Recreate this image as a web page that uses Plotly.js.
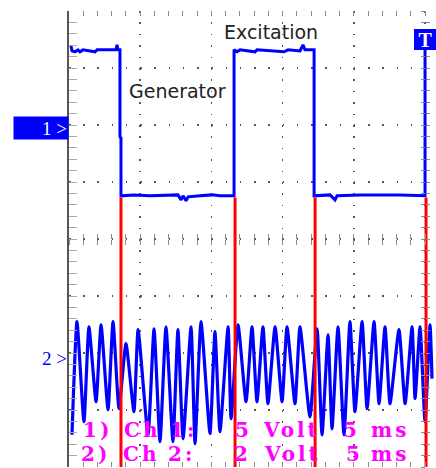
<!DOCTYPE html>
<html>
<head>
<meta charset="utf-8">
<script src="https://cdn.plot.ly/plotly-3.0.1.min.js"></script>
<style>html,body{margin:0;padding:0;background:#fff;}#chart{width:436px;height:468px;}</style>
</head>
<body>
<div id="chart"></div>
<script>
// ---- data (time in ms, values in volts) ----
const ch1Time = [0.14,0.21,0.42,0.63,0.77,0.98,1.83,1.97,3.30,3.37,3.44,3.58,3.58,3.65,3.65,4.56,5.69,7.65,7.87,8.01,8.22,8.36,9.20,10.04,10.60,11.59,11.59,11.80,12.01,13.06,13.20,15.10,15.38,16.22,16.43,16.57,17.21,17.21,18.33,18.68,18.82,20.44,23.24,24.93,25.00,25.00];
const ch1Volt = [7.19,6.75,6.67,6.84,6.67,6.84,6.67,6.84,6.84,7.28,6.84,6.84,-0.79,-0.88,-5.96,-5.88,-5.96,-5.88,-6.32,-5.96,-6.40,-6.05,-5.96,-5.88,-5.96,-5.96,6.84,6.67,6.84,6.67,6.84,6.67,6.84,6.75,7.28,6.84,6.84,-5.96,-5.88,-6.32,-5.96,-5.88,-5.88,-5.96,-5.96,7.40];

const ch2Time = [0.21,0.56,1.05,1.40,1.90,2.25,2.74,3.09,3.51,4.00,4.56,4.85,5.55,5.97,6.39,6.81,7.30,7.65,8.01,8.57,8.85,9.27,9.90,10.25,10.60,11.17,11.38,11.87,12.43,12.85,13.20,13.62,13.97,14.47,14.96,15.31,15.87,16.22,16.92,17.42,17.77,18.19,18.47,18.89,19.31,19.73,20.08,20.58,20.93,21.42,21.77,22.19,22.54,23.17,23.60,24.09,24.30,24.65,25.00,25.35,25.49];
const ch2Volt = [-2.67,1.30,-2.21,1.12,-1.51,1.19,-1.79,1.30,-1.75,0.53,-1.86,1.02,-2.67,1.05,-2.91,1.12,-2.91,1.02,-2.81,1.12,-2.98,1.30,-2.63,0.95,-2.56,1.12,-2.11,1.19,-1.51,1.12,-1.51,1.12,-1.58,1.12,-1.51,1.12,-1.58,1.12,-2.04,1.05,-2.67,0.84,-2.46,1.12,-2.67,1.30,-1.86,1.30,-1.75,1.30,-1.58,1.12,-1.58,1.02,-1.58,1.12,-1.40,1.12,-2.21,1.19,-0.70];

// red edges (ms) and its levels (ch1 volts)
const redEdges = [3.65, 11.66, 17.28, 25.07];
const redHigh = -6.1, redLow = -32;

const chLabels = ["1) Ch 1:", "2) Ch 2:"];
const voltLabels = ["5 Volt", "2 Volt"];
const timeLabels = ["5 ms", "5 ms"];

// ---- screen settings ----
const msPerDiv = 5, xEndMs = 25.77, trigMs = 25;
const ch1 = {scale: 5, offsetDiv: 1.95};
const ch2 = {scale: 2, offsetDiv: -2.1};
function rng(c){ return [(-4 - c.offsetDiv)*c.scale, (4 - c.offsetDiv)*c.scale]; }
function center(c){ return -c.offsetDiv*c.scale; }

const L = 69, T = 11, PW = 367, PH = 456;
const px = v => (v - L)/PW;
const py = v => (T + PH - v)/PH;

const redX = [], redY = [];
redEdges.forEach(e => { redX.push(e, e, null); redY.push(redHigh, redLow, null); });

const BLUE = '#0000ff';
const traces = [
  {x: ch2Time, y: ch2Volt, xaxis: 'x', yaxis: 'y', mode: 'lines',
   line: {color: BLUE, width: 3.2, shape: 'spline', smoothing: 0.5}, hoverinfo: 'skip', showlegend: false},
  {x: redX, y: redY, xaxis: 'x3', yaxis: 'y3', mode: 'lines',
   line: {color: '#ff0000', width: 3}, hoverinfo: 'skip', showlegend: false},
  {x: ch1Time, y: ch1Volt, xaxis: 'x2', yaxis: 'y2', mode: 'lines',
   line: {color: BLUE, width: 3}, hoverinfo: 'skip', showlegend: false}
];

const dotCol = '#555';
const tickCol = '#8a8a8a';
const hiddenAx = {showgrid: false, zeroline: false, showline: false, showticklabels: false};
const layout = {
  width: 436, height: 468,
  margin: {l: L, r: 0, t: T, b: 1, pad: 0},
  paper_bgcolor: '#fff', plot_bgcolor: '#fff',
  showlegend: false, hovermode: false,
  xaxis: Object.assign({}, hiddenAx, {
    range: [0, xEndMs], tick0: 0, dtick: msPerDiv,
    showgrid: true, gridcolor: dotCol, gridwidth: 1.5, griddash: '1.5px,9.9px',
    ticks: 'inside', ticklen: 5, tickcolor: tickCol, tickwidth: 1, mirror: 'ticks',
    minor: {dtick: msPerDiv/5, tick0: 0, ticks: 'inside', ticklen: 5, tickcolor: tickCol, tickwidth: 1, showgrid: false}
  }),
  yaxis: Object.assign({}, hiddenAx, {
    range: rng(ch2), tick0: center(ch2), dtick: ch2.scale,
    showgrid: true, gridcolor: dotCol, gridwidth: 1.5, griddash: '1.5px,12.74px',
    showline: true, linecolor: '#555', linewidth: 2.5,
    ticks: 'inside', ticklen: 8, tickcolor: '#aaa', tickwidth: 1,
    minor: {dtick: ch2.scale/5, tick0: center(ch2), ticks: 'inside', ticklen: 8, tickcolor: '#aaa', tickwidth: 1, showgrid: false}
  }),
  xaxis2: Object.assign({}, hiddenAx, {
    overlaying: 'x', anchor: 'free', position: 0.5, range: [0, xEndMs],
    tick0: 0, dtick: msPerDiv/5, ticks: 'outside', ticklen: 5, tickcolor: tickCol, tickwidth: 1
  }),
  xaxis3: Object.assign({}, hiddenAx, {
    overlaying: 'x', anchor: 'free', position: 0.5, range: [0, xEndMs],
    tick0: 0, dtick: msPerDiv/5, ticks: 'inside', ticklen: 5, tickcolor: tickCol, tickwidth: 1
  }),
  yaxis2: Object.assign({}, hiddenAx, {
    overlaying: 'y', anchor: 'free', position: px(L + 5*71.2), range: rng(ch1),
    tick0: center(ch1), dtick: ch1.scale/5, ticks: 'outside', ticklen: 4, tickcolor: tickCol, tickwidth: 1
  }),
  yaxis3: Object.assign({}, hiddenAx, {
    overlaying: 'y', anchor: 'free', position: px(L + 5*71.2), range: rng(ch1),
    tick0: center(ch1), dtick: ch1.scale/5, ticks: 'inside', ticklen: 4, tickcolor: tickCol, tickwidth: 1
  }),
  annotations: []
};

const A = layout.annotations;
A.push({text: 'Excitation', xref: 'paper', yref: 'paper', x: px(271), y: py(32), xanchor: 'center', yanchor: 'middle',
  showarrow: false, font: {family: 'DejaVu Sans', size: 19, color: '#222'}});
A.push({text: 'Generator', xref: 'paper', yref: 'paper', x: px(177), y: py(91), xanchor: 'center', yanchor: 'middle',
  showarrow: false, font: {family: 'DejaVu Sans', size: 19, color: '#222'}});
A.push({text: '1 >', xref: 'paper', yref: 'y2', x: 0, y: 0, xanchor: 'right', yanchor: 'middle',
  showarrow: false, width: 52, height: 20, align: 'right', bgcolor: BLUE, borderpad: 1,
  font: {family: 'Liberation Serif', size: 19, color: '#fff'}});
A.push({text: '2 >', xref: 'paper', yref: 'y', x: 0, y: 0, xanchor: 'right', yanchor: 'middle',
  showarrow: false, font: {family: 'Liberation Serif', size: 19, color: BLUE}});
A.push({text: '<b>T</b>', xref: 'x', yref: 'paper', x: trigMs, y: py(39.5), xanchor: 'center', yanchor: 'middle',
  showarrow: false, width: 21, height: 19, bgcolor: BLUE, borderwidth: 0,
  font: {family: 'Liberation Serif', size: 20, color: '#fff'}});

// bottom readout text (magenta)
const rowsY = [430, 454];
const colX = [[96, 140, 182, 242, 290, 350, 388], [94, 139, 180, 241, 291, 353, 388]];
for (let r = 0; r < 2; r++) {
  const parts = chLabels[r].split(' ').concat(voltLabels[r].split(' ')).concat(timeLabels[r].split(' '));
  parts.forEach((p, i) => {
    A.push({text: '<span style="letter-spacing:3px">' + p + '</span>', xref: 'paper', yref: 'paper',
      x: px(colX[r][i] + 1.5), y: py(rowsY[r]), xanchor: 'center', yanchor: 'middle', showarrow: false,
      font: {family: 'DejaVu Serif', size: 20, weight: 'bold', color: '#ff00ff'}});
  });
}

Plotly.newPlot('chart', traces, layout, {staticPlot: true, displayModeBar: false});
</script>
</body>
</html>
